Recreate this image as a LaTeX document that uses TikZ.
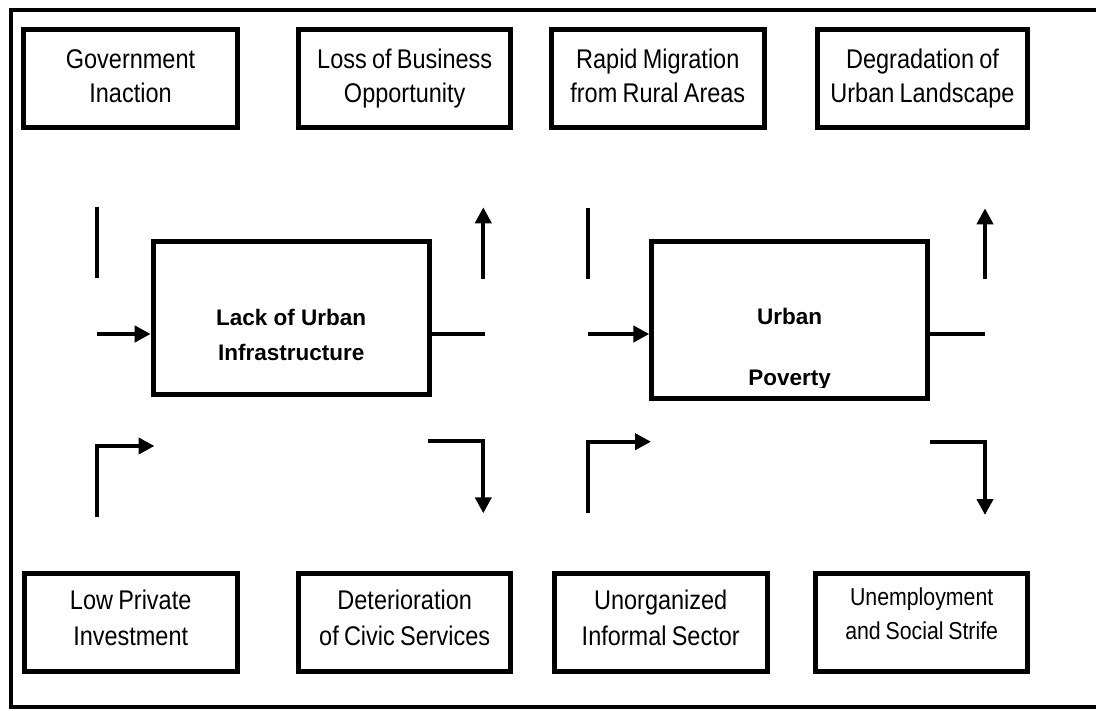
\documentclass[tikz,border=0pt]{standalone}
\usepackage{fontspec}
\usetikzlibrary{arrows.meta}
\newfontfamily\boxfont[FakeStretch=0.87,WordSpace=0.8]{Liberation Sans}
\newfontfamily\ctrfont{Liberation Sans}
\tikzset{
  ibox/.style={draw, line width=5pt, minimum width=212pt, minimum height=98pt, inner sep=0pt},
  cbox/.style={draw, line width=5pt, inner sep=0pt},
  ltxt/.style={font=\boxfont\fontsize{27}{31}\selectfont, anchor=base, inner sep=0pt},
  stxt/.style={font=\boxfont\fontsize{24.5}{29}\selectfont, anchor=base, inner sep=0pt},
  ctxt/.style={font=\ctrfont\bfseries\fontsize{22.5}{27}\selectfont, anchor=base, inner sep=0pt},
  conn/.style={line width=4pt},
  arr/.style={conn, -{Triangle[length=16pt,width=16pt]}},
  frame/.style={line width=4pt}
}
\begin{document}
\begin{tikzpicture}[x=1pt,y=-1pt]
\useasboundingbox[fill=white] (0,0) rectangle (1096,711);
\clip (0,0) rectangle (1096,711);
% outer frame (right side lies outside the picture)
\draw[frame] (1120,10.5) -- (11,10.5) -- (11,707) -- (1120,707);

% top boxes
\node[ibox, minimum width=214pt] (gov) at (130.5,79) {};
\node[ltxt] (gova) at (130.5,68.5) {Government};
\node[ltxt] (govb) at (130.5,103) {Inaction};
\node[ibox, minimum width=211.5pt] (loss) at (404.7,79) {};
\node[ltxt] (lossa) at (404.7,68.5) {Loss of Business};
\node[ltxt] (lossb) at (404.7,103) {Opportunity};
\node[ibox, minimum width=212.5pt] (mig) at (657.8,79) {};
\node[ltxt] (miga) at (657.8,68.5) {Rapid Migration};
\node[ltxt] (migb) at (657.8,103) {from Rural Areas};
\node[ibox, minimum width=209.5pt] (deg) at (922.5,79) {};
\node[ltxt] (dega) at (922.5,68.5) {Degradation of};
\node[ltxt] (degb) at (922.5,103) {Urban Landscape};

% bottom boxes
\node[ibox, minimum width=213pt] (low) at (130.7,622) {};
\node[ltxt] (lowa) at (130.7,609.5) {Low Private};
\node[ltxt] (lowb) at (130.7,645) {Investment};
\node[ibox, minimum width=211.5pt] (det) at (404.7,622) {};
\node[ltxt] (deta) at (404.7,609.5) {Deterioration};
\node[ltxt] (detb) at (404.7,645) {of Civic Services};
\node[ibox, minimum width=213pt] (uno) at (660.7,622) {};
\node[ltxt] (unoa) at (660.7,609.5) {Unorganized};
\node[ltxt] (unob) at (660.7,645) {Informal Sector};
\node[ibox, minimum width=212.5pt] (une) at (921.7,622) {};
\node[stxt] (unea) at (921.7,605) {Unemployment};
\node[stxt] (uneb) at (921.7,639) {and Social Strife};

% central boxes
\node[cbox, minimum width=276pt, minimum height=153pt] (lack) at (291.2,318) {};
\node[ctxt] (lacka) at (291.2,326) {Lack of Urban};
\node[ctxt] (lackb) at (291.2,360.7) {Infrastructure};
\node[cbox, minimum width=275.7pt, minimum height=157.5pt] (urb) at (789.7,320.2) {};
\node[ctxt] (urba) at (789.7,325) {Urban};
\begin{scope}
\clip (660,360) rectangle (920,387.3);
\node[ctxt] (urbb) at (789.7,386) {Poverty};
\end{scope}

% connectors around Lack of Urban Infrastructure
\coordinate (a1s) at (96.7,206.7);  \coordinate (a1e) at (96.7,278.3);
\coordinate (a2s) at (96.7,334);
\coordinate (a3e) at (485,334);
\coordinate (a4s) at (483.3,279.3); \coordinate (a4e) at (483.3,207.3);
\coordinate (a5s) at (96.7,516.7);  \coordinate (a5m) at (96.7,446); \coordinate (a5e) at (154.5,446);
\coordinate (a6s) at (427.7,440.7); \coordinate (a6m) at (483.3,440.7); \coordinate (a6e) at (483.3,513.3);
\draw[conn] (a1s) -- (a1e);
\draw[arr] (a2s) -- (a2s -| lack.west);
\draw[conn] (a2s -| lack.east) -- (a3e);
\draw[arr] (a4s) -- (a4e);
\draw[arr] (a5s) -- (a5m) -- (a5e);
\draw[arr] (a6s) -- (a6m) -- (a6e);

% connectors around Urban Poverty
\coordinate (b1s) at (588.3,208.3); \coordinate (b1e) at (588.3,279.3);
\coordinate (b2s) at (588.3,334);
\coordinate (b3e) at (985,334);
\coordinate (b4s) at (985,279.3);   \coordinate (b4e) at (985,208.3);
\coordinate (b5s) at (588.3,513.3); \coordinate (b5m) at (588.3,441.7); \coordinate (b5e) at (651,441.7);
\coordinate (b6s) at (930,442.3);   \coordinate (b6m) at (985,442.3); \coordinate (b6e) at (985,515);
\draw[conn] (b1s) -- (b1e);
\draw[arr] (b2s) -- (b2s -| urb.west);
\draw[conn] (b2s -| urb.east) -- (b3e);
\draw[arr] (b4s) -- (b4e);
\draw[arr] (b5s) -- (b5m) -- (b5e);
\draw[arr] (b6s) -- (b6m) -- (b6e);
\end{tikzpicture}
\end{document}
